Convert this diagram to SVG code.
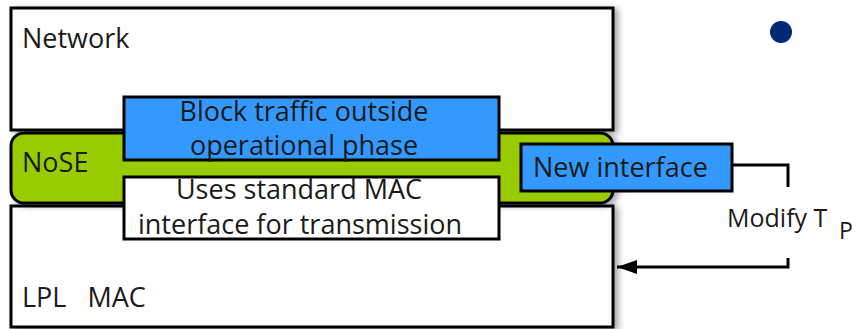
<svg xmlns="http://www.w3.org/2000/svg" width="856" height="329" viewBox="0 0 856 329">
<defs>
<filter id="sh" x="-10%" y="-20%" width="125%" height="150%">
<feDropShadow dx="4" dy="2" stdDeviation="3" flood-color="#000" flood-opacity="0.35"/>
</filter>
<marker id="arr" viewBox="0 0 20 14" refX="20" refY="7" markerWidth="20" markerHeight="14" markerUnits="userSpaceOnUse" orient="auto">
<path d="M0,0 L20,7 L0,14 Z" fill="#000"/>
</marker>
<style>
.box{stroke:#000;stroke-width:3}
.white{fill:#fff}
.blue{fill:#3399ff}
.green{fill:#99cc00}
.t{font-family:"Open Sans","DejaVu Sans",sans-serif;font-size:27px;fill:#1a1a1a}
.c{text-anchor:middle}
.conn{fill:none;stroke:#000;stroke-width:3}
</style>
</defs>
<rect width="856" height="329" fill="#fff"/>
<g id="network">
<rect class="box white" x="11" y="8" width="602" height="122" filter="url(#sh)"/>
<text class="t" x="22" y="48">Network</text>
</g>
<g id="lpl-mac">
<rect class="box white" x="11" y="206" width="602" height="121" filter="url(#sh)"/>
<text class="t" x="22" y="307" xml:space="preserve">LPL   MAC</text>
</g>
<g id="nose">
<rect class="box green" x="11" y="133" width="602" height="70" rx="13" filter="url(#sh)"/>
<text class="t" x="22" y="172">NoSE</text>
</g>
<g id="block-traffic">
<rect class="box blue" x="124" y="97" width="375" height="63"/>
<text class="t c" x="304" y="121">Block traffic outside</text>
<text class="t c" x="304" y="155">operational phase</text>
</g>
<g id="uses-standard">
<rect class="box white" x="124" y="177" width="375" height="62"/>
<text class="t c" x="299" y="199">Uses standard MAC</text>
<text class="t c" x="300" y="234">interface for transmission</text>
</g>
<g id="new-interface">
<rect class="box blue" x="521" y="144" width="211" height="47"/>
<text class="t" x="533" y="177">New interface</text>
</g>
<g id="modify">
<text class="t" x="727" y="227" style="font-size:25px">Modify T</text>
<text class="t" x="839" y="239" style="font-size:23px">P</text>
</g>
<g id="connectors">
<path class="conn" d="M732,165 H788 V187"/>
<path class="conn" d="M788,258 V267 H617" marker-end="url(#arr)"/>
</g>
<g id="bullet">
<circle cx="781" cy="32" r="11" fill="#00297a"/>
</g>
</svg>
